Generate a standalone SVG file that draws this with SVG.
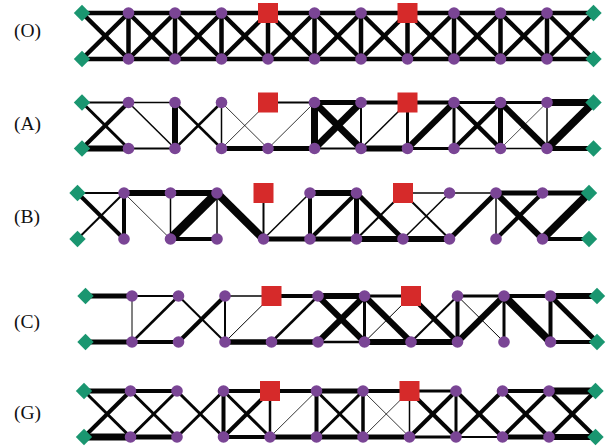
<svg xmlns="http://www.w3.org/2000/svg" xmlns:xlink="http://www.w3.org/1999/xlink" width="611" height="446" viewBox="0 0 611 446">
<style>
.lbl{font-family:"Liberation Serif","DejaVu Serif",serif;font-size:19.5px;fill:#111}
.conn line{stroke:#050505;stroke-linecap:butt}
.pn{fill:#7a4595}
.sup{fill:#1a9670}
.ld{fill:#d62a2a}
</style>
<defs>
<circle id="pn" class="pn" r="5.8"/>
<path id="sup" class="sup" d="M0,-8.2 L8.2,0 L0,8.2 L-8.2,0Z"/>
<rect id="ld" class="ld" x="-10" y="-10" width="20" height="20"/>
</defs>
<rect width="611" height="446" fill="#fff"/>
<text class="lbl" x="14" y="37">(O)</text>
<text class="lbl" x="14" y="130">(A)</text>
<text class="lbl" x="14" y="223">(B)</text>
<text class="lbl" x="14" y="328">(C)</text>
<text class="lbl" x="14" y="419">(G)</text>

<!-- Row O -->
<g id="row-O" transform="translate(82,13)">
<g id="O-connectors" class="conn" stroke-width="4.5">
<line x1="0" y1="0" x2="46.5" y2="0"/><line x1="46.5" y1="0" x2="93" y2="0"/><line x1="93" y1="0" x2="139.5" y2="0"/><line x1="139.5" y1="0" x2="186" y2="0"/><line x1="186" y1="0" x2="232.5" y2="0"/><line x1="232.5" y1="0" x2="279" y2="0"/><line x1="279" y1="0" x2="325.5" y2="0"/><line x1="325.5" y1="0" x2="372" y2="0"/><line x1="372" y1="0" x2="418.5" y2="0"/><line x1="418.5" y1="0" x2="465" y2="0"/><line x1="465" y1="0" x2="511.5" y2="0"/>
<line x1="0" y1="46" x2="46.5" y2="46"/><line x1="46.5" y1="46" x2="93" y2="46"/><line x1="93" y1="46" x2="139.5" y2="46"/><line x1="139.5" y1="46" x2="186" y2="46"/><line x1="186" y1="46" x2="232.5" y2="46"/><line x1="232.5" y1="46" x2="279" y2="46"/><line x1="279" y1="46" x2="325.5" y2="46"/><line x1="325.5" y1="46" x2="372" y2="46"/><line x1="372" y1="46" x2="418.5" y2="46"/><line x1="418.5" y1="46" x2="465" y2="46"/><line x1="465" y1="46" x2="511.5" y2="46"/>
<line x1="46.5" y1="0" x2="46.5" y2="46"/><line x1="93" y1="0" x2="93" y2="46"/><line x1="139.5" y1="0" x2="139.5" y2="46"/><line x1="186" y1="0" x2="186" y2="46"/><line x1="232.5" y1="0" x2="232.5" y2="46"/><line x1="279" y1="0" x2="279" y2="46"/><line x1="325.5" y1="0" x2="325.5" y2="46"/><line x1="372" y1="0" x2="372" y2="46"/><line x1="418.5" y1="0" x2="418.5" y2="46"/><line x1="465" y1="0" x2="465" y2="46"/>
<line x1="0" y1="0" x2="46.5" y2="46"/><line x1="46.5" y1="0" x2="93" y2="46"/><line x1="93" y1="0" x2="139.5" y2="46"/><line x1="139.5" y1="0" x2="186" y2="46"/><line x1="186" y1="0" x2="232.5" y2="46"/><line x1="232.5" y1="0" x2="279" y2="46"/><line x1="279" y1="0" x2="325.5" y2="46"/><line x1="325.5" y1="0" x2="372" y2="46"/><line x1="372" y1="0" x2="418.5" y2="46"/><line x1="418.5" y1="0" x2="465" y2="46"/><line x1="465" y1="0" x2="511.5" y2="46"/>
<line x1="0" y1="46" x2="46.5" y2="0"/><line x1="46.5" y1="46" x2="93" y2="0"/><line x1="93" y1="46" x2="139.5" y2="0"/><line x1="139.5" y1="46" x2="186" y2="0"/><line x1="186" y1="46" x2="232.5" y2="0"/><line x1="232.5" y1="46" x2="279" y2="0"/><line x1="279" y1="46" x2="325.5" y2="0"/><line x1="325.5" y1="46" x2="372" y2="0"/><line x1="372" y1="46" x2="418.5" y2="0"/><line x1="418.5" y1="46" x2="465" y2="0"/><line x1="465" y1="46" x2="511.5" y2="0"/>
</g>
<g id="O-nodes">
<g id="O-s0t"><use href="#sup" x="0" y="0"/></g><g id="O-s0b"><use href="#sup" x="0" y="46"/></g>
<g id="O-t1"><use href="#pn" x="46.5" y="0"/></g><g id="O-t2"><use href="#pn" x="93" y="0"/></g><g id="O-t3"><use href="#pn" x="139.5" y="0"/></g><g id="O-t4"><use href="#ld" x="186" y="0"/></g><g id="O-t5"><use href="#pn" x="232.5" y="0"/></g><g id="O-t6"><use href="#pn" x="279" y="0"/></g><g id="O-t7"><use href="#ld" x="325.5" y="0"/></g><g id="O-t8"><use href="#pn" x="372" y="0"/></g><g id="O-t9"><use href="#pn" x="418.5" y="0"/></g><g id="O-t10"><use href="#pn" x="465" y="0"/></g>
<g id="O-b1"><use href="#pn" x="46.5" y="46"/></g><g id="O-b2"><use href="#pn" x="93" y="46"/></g><g id="O-b3"><use href="#pn" x="139.5" y="46"/></g><g id="O-b4"><use href="#pn" x="186" y="46"/></g><g id="O-b5"><use href="#pn" x="232.5" y="46"/></g><g id="O-b6"><use href="#pn" x="279" y="46"/></g><g id="O-b7"><use href="#pn" x="325.5" y="46"/></g><g id="O-b8"><use href="#pn" x="372" y="46"/></g><g id="O-b9"><use href="#pn" x="418.5" y="46"/></g><g id="O-b10"><use href="#pn" x="465" y="46"/></g>
<g id="O-s11t"><use href="#sup" x="511.5" y="0"/></g><g id="O-s11b"><use href="#sup" x="511.5" y="46"/></g>
</g>
</g>

<!-- Row A -->
<g id="row-A" transform="translate(82,102.5)">
<g id="A-connectors" class="conn">
<line x1="0" y1="0" x2="46.5" y2="0" stroke-width="2"/>
<line x1="0" y1="46" x2="46.5" y2="46" stroke-width="6"/>
<line x1="0" y1="0" x2="46.5" y2="46" stroke-width="3"/>
<line x1="0" y1="46" x2="46.5" y2="0" stroke-width="4"/>
<line x1="46.5" y1="0" x2="93" y2="0" stroke-width="1.5"/>
<line x1="46.5" y1="46" x2="93" y2="46" stroke-width="2"/>
<line x1="46.5" y1="0" x2="93" y2="46" stroke-width="1.5"/>
<line x1="93" y1="0" x2="93" y2="46" stroke-width="6"/>
<line x1="93" y1="0" x2="139.5" y2="46" stroke-width="2.5"/>
<line x1="93" y1="46" x2="139.5" y2="0" stroke-width="2.5"/>
<line x1="139.5" y1="0" x2="139.5" y2="46" stroke-width="1.5"/>
<line x1="139.5" y1="46" x2="186" y2="46" stroke-width="5"/>
<line x1="139.5" y1="0" x2="186" y2="46" stroke-width="0.8"/>
<line x1="139.5" y1="46" x2="186" y2="0" stroke-width="0.8"/>
<line x1="186" y1="0" x2="232.5" y2="0" stroke-width="2"/>
<line x1="186" y1="46" x2="232.5" y2="46" stroke-width="5"/>
<line x1="186" y1="46" x2="232.5" y2="0" stroke-width="0.8"/>
<line x1="232.5" y1="0" x2="232.5" y2="46" stroke-width="7"/>
<line x1="232.5" y1="0" x2="279" y2="0" stroke-width="5"/>
<line x1="232.5" y1="46" x2="279" y2="46" stroke-width="2"/>
<line x1="232.5" y1="0" x2="279" y2="46" stroke-width="7"/>
<line x1="232.5" y1="46" x2="279" y2="0" stroke-width="7"/>
<line x1="279" y1="0" x2="279" y2="46" stroke-width="2"/>
<line x1="279" y1="0" x2="325.5" y2="0" stroke-width="4"/>
<line x1="279" y1="46" x2="325.5" y2="46" stroke-width="6"/>
<line x1="279" y1="46" x2="325.5" y2="0" stroke-width="1.5"/>
<line x1="325.5" y1="0" x2="325.5" y2="46" stroke-width="3"/>
<line x1="325.5" y1="0" x2="372" y2="0" stroke-width="4"/>
<line x1="325.5" y1="46" x2="372" y2="46" stroke-width="3"/>
<line x1="325.5" y1="46" x2="372" y2="0" stroke-width="6"/>
<line x1="372" y1="0" x2="372" y2="46" stroke-width="3"/>
<line x1="372" y1="0" x2="418.5" y2="0" stroke-width="3"/>
<line x1="372" y1="46" x2="418.5" y2="46" stroke-width="1.5"/>
<line x1="372" y1="0" x2="418.5" y2="46" stroke-width="4.5"/>
<line x1="372" y1="46" x2="418.5" y2="0" stroke-width="4.5"/>
<line x1="418.5" y1="0" x2="418.5" y2="46" stroke-width="5"/>
<line x1="418.5" y1="0" x2="465" y2="0" stroke-width="3"/>
<line x1="418.5" y1="46" x2="465" y2="46" stroke-width="1.5"/>
<line x1="418.5" y1="0" x2="465" y2="46" stroke-width="6"/>
<line x1="418.5" y1="46" x2="465" y2="0" stroke-width="0.7"/>
<line x1="465" y1="0" x2="465" y2="46" stroke-width="1.5"/>
<line x1="465" y1="0" x2="511.5" y2="0" stroke-width="7"/>
<line x1="465" y1="46" x2="511.5" y2="46" stroke-width="5"/>
<line x1="465" y1="46" x2="511.5" y2="0" stroke-width="8"/>
</g>
<g id="A-nodes">
<g id="A-s0t"><use href="#sup" x="0" y="0"/></g><g id="A-s0b"><use href="#sup" x="0" y="46"/></g>
<g id="A-t1"><use href="#pn" x="46.5" y="0"/></g><g id="A-t2"><use href="#pn" x="93" y="0"/></g><g id="A-t3"><use href="#pn" x="139.5" y="0"/></g><g id="A-t4"><use href="#ld" x="186" y="0"/></g><g id="A-t5"><use href="#pn" x="232.5" y="0"/></g><g id="A-t6"><use href="#pn" x="279" y="0"/></g><g id="A-t7"><use href="#ld" x="325.5" y="0"/></g><g id="A-t8"><use href="#pn" x="372" y="0"/></g><g id="A-t9"><use href="#pn" x="418.5" y="0"/></g><g id="A-t10"><use href="#pn" x="465" y="0"/></g>
<g id="A-b1"><use href="#pn" x="46.5" y="46"/></g><g id="A-b2"><use href="#pn" x="93" y="46"/></g><g id="A-b3"><use href="#pn" x="139.5" y="46"/></g><g id="A-b4"><use href="#pn" x="186" y="46"/></g><g id="A-b5"><use href="#pn" x="232.5" y="46"/></g><g id="A-b6"><use href="#pn" x="279" y="46"/></g><g id="A-b7"><use href="#pn" x="325.5" y="46"/></g><g id="A-b8"><use href="#pn" x="372" y="46"/></g><g id="A-b9"><use href="#pn" x="418.5" y="46"/></g><g id="A-b10"><use href="#pn" x="465" y="46"/></g>
<g id="A-s11t"><use href="#sup" x="511.5" y="0"/></g><g id="A-s11b"><use href="#sup" x="511.5" y="46"/></g>
</g>
</g>

<!-- Row B -->
<g id="row-B" transform="translate(77.5,193)">
<g id="B-connectors" class="conn">
<line x1="0" y1="0" x2="46.5" y2="0" stroke-width="2"/>
<line x1="0" y1="0" x2="46.5" y2="46" stroke-width="4"/>
<line x1="0" y1="46" x2="46.5" y2="0" stroke-width="2"/>
<line x1="46.5" y1="0" x2="46.5" y2="46" stroke-width="4"/>
<line x1="46.5" y1="0" x2="93" y2="0" stroke-width="6"/>
<line x1="46.5" y1="0" x2="93" y2="46" stroke-width="0.8"/>
<line x1="93" y1="0" x2="93" y2="46" stroke-width="1.5"/>
<line x1="93" y1="0" x2="139.5" y2="0" stroke-width="6"/>
<line x1="93" y1="46" x2="139.5" y2="46" stroke-width="4"/>
<line x1="93" y1="46" x2="139.5" y2="0" stroke-width="9"/>
<line x1="139.5" y1="0" x2="139.5" y2="46" stroke-width="1.5"/>
<line x1="139.5" y1="0" x2="186" y2="46" stroke-width="8"/>
<line x1="186" y1="0" x2="186" y2="46" stroke-width="2"/>
<line x1="186" y1="46" x2="232.5" y2="46" stroke-width="5"/>
<line x1="186" y1="46" x2="232.5" y2="0" stroke-width="1.5"/>
<line x1="232.5" y1="0" x2="232.5" y2="46" stroke-width="4"/>
<line x1="232.5" y1="0" x2="279" y2="0" stroke-width="6"/>
<line x1="232.5" y1="46" x2="279" y2="46" stroke-width="5"/>
<line x1="232.5" y1="46" x2="279" y2="0" stroke-width="4"/>
<line x1="279" y1="0" x2="279" y2="46" stroke-width="5"/>
<line x1="279" y1="0" x2="325.5" y2="46" stroke-width="5"/>
<line x1="279" y1="46" x2="325.5" y2="0" stroke-width="2"/>
<line x1="279" y1="46" x2="325.5" y2="46" stroke-width="6"/>
<line x1="325.5" y1="0" x2="372" y2="0" stroke-width="1.5"/>
<line x1="325.5" y1="0" x2="372" y2="46" stroke-width="2"/>
<line x1="325.5" y1="46" x2="372" y2="0" stroke-width="1.5"/>
<line x1="325.5" y1="46" x2="372" y2="46" stroke-width="6"/>
<line x1="372" y1="0" x2="418.5" y2="0" stroke-width="1.5"/>
<line x1="372" y1="46" x2="418.5" y2="0" stroke-width="5"/>
<line x1="418.5" y1="0" x2="418.5" y2="46" stroke-width="1.5"/>
<line x1="418.5" y1="0" x2="465" y2="0" stroke-width="5"/>
<line x1="418.5" y1="0" x2="465" y2="46" stroke-width="6"/>
<line x1="418.5" y1="46" x2="465" y2="0" stroke-width="4"/>
<line x1="465" y1="0" x2="511.5" y2="0" stroke-width="5"/>
<line x1="465" y1="46" x2="511.5" y2="0" stroke-width="8"/>
<line x1="465" y1="46" x2="511.5" y2="46" stroke-width="4"/>
</g>
<g id="B-nodes">
<g id="B-s0t"><use href="#sup" x="0" y="0"/></g><g id="B-s0b"><use href="#sup" x="0" y="46"/></g>
<g id="B-t1"><use href="#pn" x="46.5" y="0"/></g><g id="B-t2"><use href="#pn" x="93" y="0"/></g><g id="B-t3"><use href="#pn" x="139.5" y="0"/></g><g id="B-t4"><use href="#ld" x="186" y="0"/></g><g id="B-t5"><use href="#pn" x="232.5" y="0"/></g><g id="B-t6"><use href="#pn" x="279" y="0"/></g><g id="B-t7"><use href="#ld" x="325.5" y="0"/></g><g id="B-t8"><use href="#pn" x="372" y="0"/></g><g id="B-t9"><use href="#pn" x="418.5" y="0"/></g><g id="B-t10"><use href="#pn" x="465" y="0"/></g>
<g id="B-b1"><use href="#pn" x="46.5" y="46"/></g><g id="B-b2"><use href="#pn" x="93" y="46"/></g><g id="B-b3"><use href="#pn" x="139.5" y="46"/></g><g id="B-b4"><use href="#pn" x="186" y="46"/></g><g id="B-b5"><use href="#pn" x="232.5" y="46"/></g><g id="B-b6"><use href="#pn" x="279" y="46"/></g><g id="B-b7"><use href="#pn" x="325.5" y="46"/></g><g id="B-b8"><use href="#pn" x="372" y="46"/></g><g id="B-b9"><use href="#pn" x="418.5" y="46"/></g><g id="B-b10"><use href="#pn" x="465" y="46"/></g>
<g id="B-s11t"><use href="#sup" x="511.5" y="0"/></g><g id="B-s11b"><use href="#sup" x="511.5" y="46"/></g>
</g>
</g>

<!-- Row C -->
<g id="row-C" transform="translate(85.5,296)">
<g id="C-connectors" class="conn">
<line x1="0" y1="0" x2="46.5" y2="0" stroke-width="5"/>
<line x1="0" y1="46" x2="46.5" y2="46" stroke-width="5"/>
<line x1="46.5" y1="0" x2="46.5" y2="46" stroke-width="1"/>
<line x1="46.5" y1="0" x2="93" y2="0" stroke-width="2"/>
<line x1="46.5" y1="46" x2="93" y2="46" stroke-width="4"/>
<line x1="46.5" y1="46" x2="93" y2="0" stroke-width="2.5"/>
<line x1="93" y1="0" x2="139.5" y2="46" stroke-width="2"/>
<line x1="93" y1="46" x2="139.5" y2="0" stroke-width="4"/>
<line x1="139.5" y1="0" x2="139.5" y2="46" stroke-width="2"/>
<line x1="139.5" y1="0" x2="186" y2="0" stroke-width="1.5"/>
<line x1="139.5" y1="46" x2="186" y2="46" stroke-width="5.5"/>
<line x1="139.5" y1="46" x2="186" y2="0" stroke-width="1"/>
<line x1="186" y1="0" x2="232.5" y2="0" stroke-width="4"/>
<line x1="186" y1="46" x2="232.5" y2="46" stroke-width="5.5"/>
<line x1="186" y1="46" x2="232.5" y2="0" stroke-width="2.5"/>
<line x1="232.5" y1="0" x2="279" y2="0" stroke-width="6"/>
<line x1="232.5" y1="46" x2="279" y2="46" stroke-width="2.5"/>
<line x1="232.5" y1="0" x2="279" y2="46" stroke-width="6"/>
<line x1="232.5" y1="46" x2="279" y2="0" stroke-width="6"/>
<line x1="279" y1="0" x2="279" y2="46" stroke-width="3"/>
<line x1="279" y1="0" x2="325.5" y2="0" stroke-width="3"/>
<line x1="279" y1="46" x2="325.5" y2="46" stroke-width="6"/>
<line x1="279" y1="0" x2="325.5" y2="46" stroke-width="6"/>
<line x1="279" y1="46" x2="325.5" y2="0" stroke-width="1"/>
<line x1="325.5" y1="46" x2="372" y2="46" stroke-width="6"/>
<line x1="325.5" y1="0" x2="372" y2="46" stroke-width="5"/>
<line x1="325.5" y1="46" x2="372" y2="0" stroke-width="2"/>
<line x1="372" y1="0" x2="372" y2="46" stroke-width="4"/>
<line x1="372" y1="0" x2="418.5" y2="0" stroke-width="3"/>
<line x1="372" y1="0" x2="418.5" y2="46" stroke-width="1"/>
<line x1="372" y1="46" x2="418.5" y2="0" stroke-width="6"/>
<line x1="418.5" y1="0" x2="418.5" y2="46" stroke-width="3"/>
<line x1="418.5" y1="0" x2="465" y2="0" stroke-width="4"/>
<line x1="418.5" y1="0" x2="465" y2="46" stroke-width="8"/>
<line x1="465" y1="0" x2="465" y2="46" stroke-width="4"/>
<line x1="465" y1="0" x2="511.5" y2="0" stroke-width="6"/>
<line x1="465" y1="46" x2="511.5" y2="46" stroke-width="4"/>
<line x1="465" y1="0" x2="511.5" y2="46" stroke-width="5"/>
</g>
<g id="C-nodes">
<g id="C-s0t"><use href="#sup" x="0" y="0"/></g><g id="C-s0b"><use href="#sup" x="0" y="46"/></g>
<g id="C-t1"><use href="#pn" x="46.5" y="0"/></g><g id="C-t2"><use href="#pn" x="93" y="0"/></g><g id="C-t3"><use href="#pn" x="139.5" y="0"/></g><g id="C-t4"><use href="#ld" x="186" y="0"/></g><g id="C-t5"><use href="#pn" x="232.5" y="0"/></g><g id="C-t6"><use href="#pn" x="279" y="0"/></g><g id="C-t7"><use href="#ld" x="325.5" y="0"/></g><g id="C-t8"><use href="#pn" x="372" y="0"/></g><g id="C-t9"><use href="#pn" x="418.5" y="0"/></g><g id="C-t10"><use href="#pn" x="465" y="0"/></g>
<g id="C-b1"><use href="#pn" x="46.5" y="46"/></g><g id="C-b2"><use href="#pn" x="93" y="46"/></g><g id="C-b3"><use href="#pn" x="139.5" y="46"/></g><g id="C-b4"><use href="#pn" x="186" y="46"/></g><g id="C-b5"><use href="#pn" x="232.5" y="46"/></g><g id="C-b6"><use href="#pn" x="279" y="46"/></g><g id="C-b7"><use href="#pn" x="325.5" y="46"/></g><g id="C-b8"><use href="#pn" x="372" y="46"/></g><g id="C-b9"><use href="#pn" x="418.5" y="46"/></g><g id="C-b10"><use href="#pn" x="465" y="46"/></g>
<g id="C-s11t"><use href="#sup" x="511.5" y="0"/></g><g id="C-s11b"><use href="#sup" x="511.5" y="46"/></g>
</g>
</g>

<!-- Row G -->
<g id="row-G" transform="translate(84,391)">
<g id="G-connectors" class="conn">
<line x1="0" y1="0" x2="46.5" y2="0" stroke-width="5"/>
<line x1="0" y1="46" x2="46.5" y2="46" stroke-width="7"/>
<line x1="0" y1="0" x2="46.5" y2="46" stroke-width="3"/>
<line x1="0" y1="46" x2="46.5" y2="0" stroke-width="4"/>
<line x1="46.5" y1="0" x2="93" y2="0" stroke-width="4"/>
<line x1="46.5" y1="46" x2="93" y2="46" stroke-width="5"/>
<line x1="46.5" y1="0" x2="93" y2="46" stroke-width="3"/>
<line x1="46.5" y1="46" x2="93" y2="0" stroke-width="3"/>
<line x1="93" y1="0" x2="139.5" y2="46" stroke-width="3"/>
<line x1="93" y1="46" x2="139.5" y2="0" stroke-width="3"/>
<line x1="139.5" y1="0" x2="139.5" y2="46" stroke-width="4"/>
<line x1="139.5" y1="0" x2="186" y2="0" stroke-width="4"/>
<line x1="139.5" y1="46" x2="186" y2="46" stroke-width="4"/>
<line x1="139.5" y1="0" x2="186" y2="46" stroke-width="3"/>
<line x1="139.5" y1="46" x2="186" y2="0" stroke-width="4"/>
<line x1="186" y1="0" x2="186" y2="46" stroke-width="2.5"/>
<line x1="186" y1="0" x2="232.5" y2="0" stroke-width="4"/>
<line x1="186" y1="46" x2="232.5" y2="46" stroke-width="5"/>
<line x1="186" y1="46" x2="232.5" y2="0" stroke-width="0.8"/>
<line x1="232.5" y1="0" x2="232.5" y2="46" stroke-width="4"/>
<line x1="232.5" y1="0" x2="279" y2="0" stroke-width="5"/>
<line x1="232.5" y1="46" x2="279" y2="46" stroke-width="5"/>
<line x1="232.5" y1="0" x2="279" y2="46" stroke-width="3"/>
<line x1="232.5" y1="46" x2="279" y2="0" stroke-width="3"/>
<line x1="279" y1="0" x2="279" y2="46" stroke-width="3.5"/>
<line x1="279" y1="0" x2="325.5" y2="0" stroke-width="4"/>
<line x1="279" y1="46" x2="325.5" y2="46" stroke-width="5"/>
<line x1="279" y1="0" x2="325.5" y2="46" stroke-width="0.8"/>
<line x1="279" y1="46" x2="325.5" y2="0" stroke-width="0.8"/>
<line x1="325.5" y1="0" x2="325.5" y2="46" stroke-width="1.5"/>
<line x1="325.5" y1="0" x2="372" y2="0" stroke-width="3"/>
<line x1="325.5" y1="46" x2="372" y2="46" stroke-width="3"/>
<line x1="325.5" y1="0" x2="372" y2="46" stroke-width="4"/>
<line x1="325.5" y1="46" x2="372" y2="0" stroke-width="4"/>
<line x1="372" y1="0" x2="372" y2="46" stroke-width="3"/>
<line x1="372" y1="46" x2="418.5" y2="46" stroke-width="2"/>
<line x1="372" y1="0" x2="418.5" y2="46" stroke-width="4"/>
<line x1="372" y1="46" x2="418.5" y2="0" stroke-width="4"/>
<line x1="418.5" y1="0" x2="465" y2="0" stroke-width="4"/>
<line x1="418.5" y1="46" x2="465" y2="46" stroke-width="5"/>
<line x1="418.5" y1="0" x2="465" y2="46" stroke-width="4"/>
<line x1="418.5" y1="46" x2="465" y2="0" stroke-width="4"/>
<line x1="465" y1="0" x2="511.5" y2="0" stroke-width="7"/>
<line x1="465" y1="46" x2="511.5" y2="46" stroke-width="6"/>
<line x1="465" y1="0" x2="511.5" y2="46" stroke-width="4"/>
<line x1="465" y1="46" x2="511.5" y2="0" stroke-width="4"/>
</g>
<g id="G-nodes">
<g id="G-s0t"><use href="#sup" x="0" y="0"/></g><g id="G-s0b"><use href="#sup" x="0" y="46"/></g>
<g id="G-t1"><use href="#pn" x="46.5" y="0"/></g><g id="G-t2"><use href="#pn" x="93" y="0"/></g><g id="G-t3"><use href="#pn" x="139.5" y="0"/></g><g id="G-t4"><use href="#ld" x="186" y="0"/></g><g id="G-t5"><use href="#pn" x="232.5" y="0"/></g><g id="G-t6"><use href="#pn" x="279" y="0"/></g><g id="G-t7"><use href="#ld" x="325.5" y="0"/></g><g id="G-t8"><use href="#pn" x="372" y="0"/></g><g id="G-t9"><use href="#pn" x="418.5" y="0"/></g><g id="G-t10"><use href="#pn" x="465" y="0"/></g>
<g id="G-b1"><use href="#pn" x="46.5" y="46"/></g><g id="G-b2"><use href="#pn" x="93" y="46"/></g><g id="G-b3"><use href="#pn" x="139.5" y="46"/></g><g id="G-b4"><use href="#pn" x="186" y="46"/></g><g id="G-b5"><use href="#pn" x="232.5" y="46"/></g><g id="G-b6"><use href="#pn" x="279" y="46"/></g><g id="G-b7"><use href="#pn" x="325.5" y="46"/></g><g id="G-b8"><use href="#pn" x="372" y="46"/></g><g id="G-b9"><use href="#pn" x="418.5" y="46"/></g><g id="G-b10"><use href="#pn" x="465" y="46"/></g>
<g id="G-s11t"><use href="#sup" x="511.5" y="0"/></g><g id="G-s11b"><use href="#sup" x="511.5" y="46"/></g>
</g>
</g>
</svg>
